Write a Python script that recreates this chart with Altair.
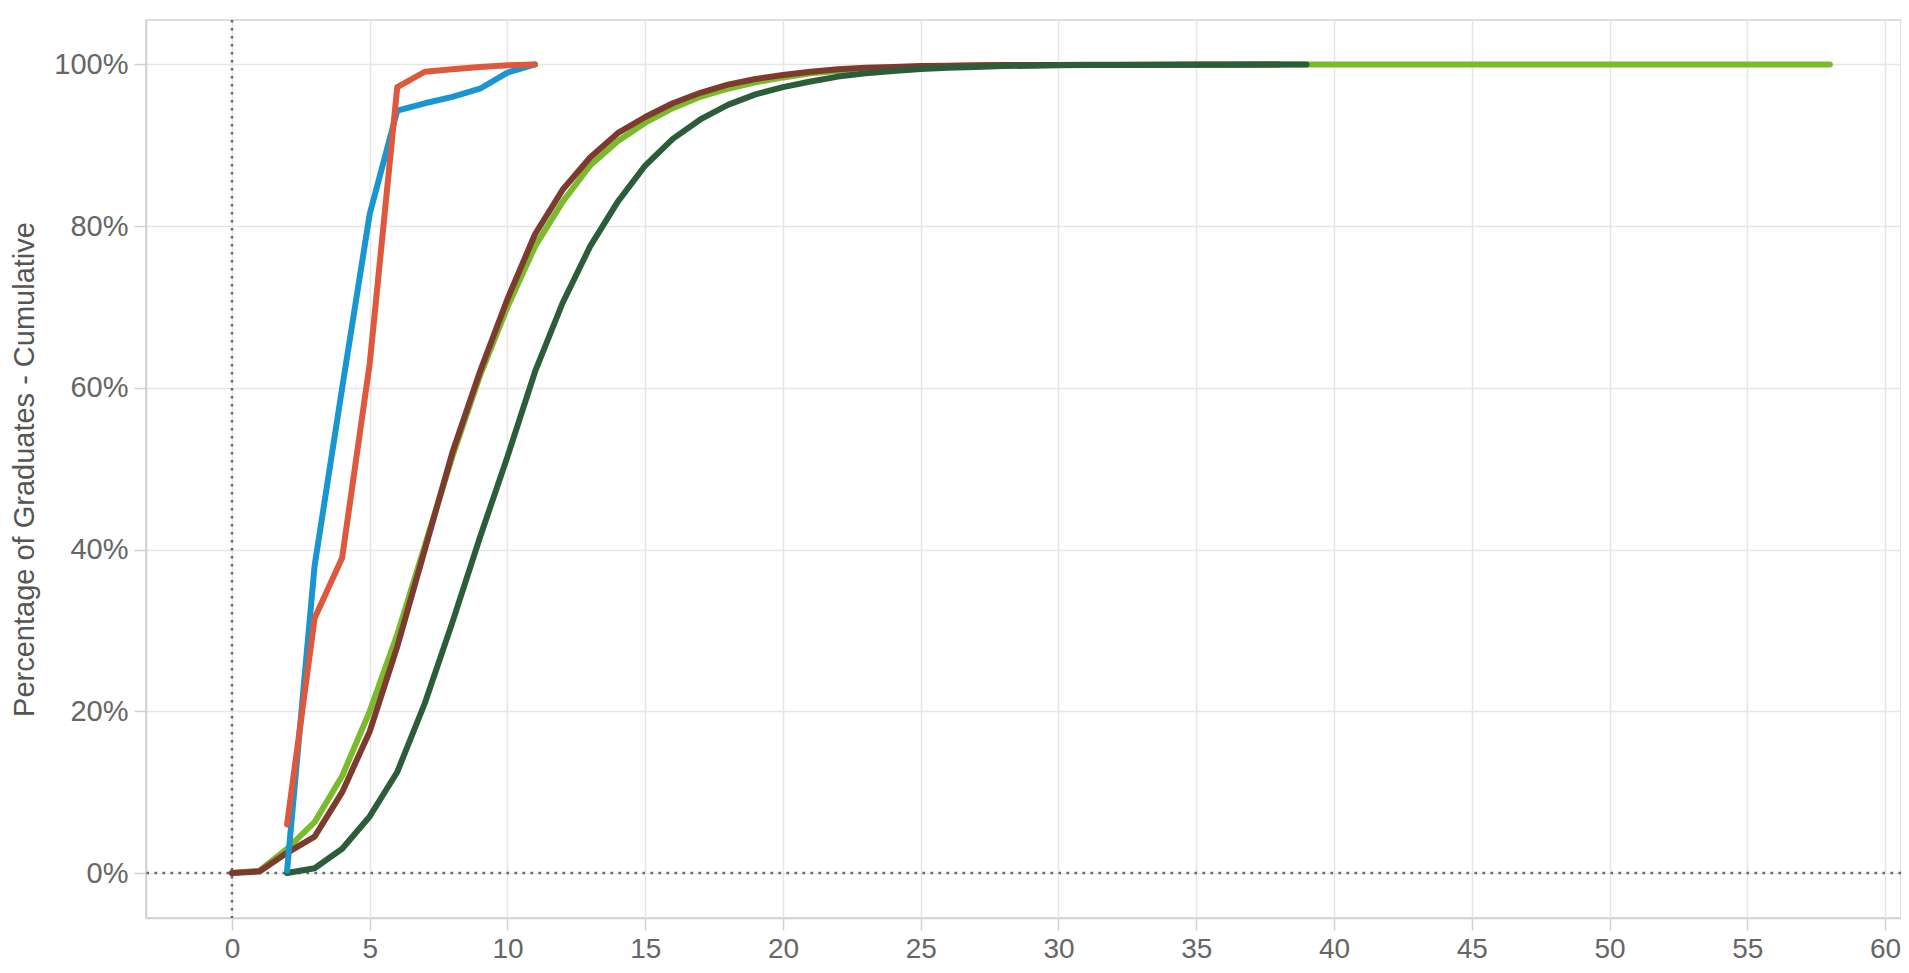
import altair as alt
import pandas as pd

# ---- data ----
blue_x = [2, 3, 4, 5, 6, 7, 8, 9, 10, 11]
blue_y = [0.3, 38, 60, 81.5, 94.3, 95.2, 96.0, 97.0, 99.0, 100]

red_x = [2, 3, 4, 5, 6, 7, 8, 9, 10, 11]
red_y = [6, 31.5, 39, 63, 97.2, 99.1, 99.4, 99.7, 99.9, 100]

lgreen_x = list(range(0, 59))
lgreen_y = [0, 0.3, 3, 6.3, 12, 20, 29.5, 40.5, 51.5, 61.5,
            70, 77.5, 83, 87.5, 90.5, 92.8, 94.6, 96, 97, 97.8,
            98.4, 98.9, 99.2, 99.45, 99.6, 99.7, 99.8, 99.85, 99.9, 99.9,
            99.92, 99.94, 99.95, 99.96, 99.97, 99.97, 99.98, 99.98, 99.99, 99.99,
            99.99, 99.99, 99.99, 100, 100, 100, 100, 100, 100, 100,
            100, 100, 100, 100, 100, 100, 100, 100, 100]

brown_x = list(range(0, 39))
brown_y = [0, 0.2, 2.5, 4.5, 10, 17.5, 28, 40, 52, 62,
           71, 79, 84.5, 88.5, 91.5, 93.5, 95.2, 96.5, 97.5, 98.2,
           98.7, 99.1, 99.4, 99.6, 99.7, 99.8, 99.85, 99.9, 99.92, 99.94,
           99.95, 99.96, 99.97, 99.98, 99.98, 99.99, 99.99, 100, 100]

dgreen_x = list(range(2, 40))
dgreen_y = [0, 0.6, 3, 7, 12.5, 21, 31, 41.5, 51.5, 62,
            70.5, 77.5, 83, 87.5, 90.8, 93.2, 95, 96.3, 97.2, 97.9,
            98.5, 98.9, 99.2, 99.45, 99.6, 99.7, 99.8, 99.85, 99.9, 99.92,
            99.94, 99.95, 99.96, 99.97, 99.98, 99.99, 100, 100]

series = [
    ("Light green", lgreen_x, lgreen_y, "#7bba2a"),
    ("Brown", brown_x, brown_y, "#7d3b2f"),
    ("Dark green", dgreen_x, dgreen_y, "#2c5d3b"),
    ("Blue", blue_x, blue_y, "#1996cf"),
    ("Red", red_x, red_y, "#de583d"),
]

FONT = "Liberation Sans"
LABEL_COLOR = "#666666"

x_scale = alt.Scale(domain=[-3.12, 60.58], nice=False, zero=False)
y_scale = alt.Scale(domain=[-0.0556, 1.055], nice=False, zero=False)

x_axis = alt.Axis(
    values=list(range(0, 61, 5)), title=None, grid=True,
    gridColor="#e6e6e6", gridWidth=1.5,
    domainColor="#d0d0d0", domainWidth=1.5,
    tickColor="#d0d0d0", tickSize=12, tickWidth=1.5,
    labelFont=FONT, labelFontSize=28, labelColor=LABEL_COLOR, labelPadding=5,
)
y_axis = alt.Axis(
    values=[0, 0.2, 0.4, 0.6, 0.8, 1.0], format=".0%",
    title="Percentage of Graduates - Cumulative", grid=True,
    gridColor="#e6e6e6", gridWidth=1.5,
    domainColor="#d0d0d0", domainWidth=1.5,
    tickColor="#d0d0d0", tickSize=12, tickWidth=1.5,
    labelFont=FONT, labelFontSize=29, labelColor=LABEL_COLOR, labelPadding=6,
    titleFont=FONT, titleFontSize=29, titleFontWeight="normal",
    titleColor="#555555", titlePadding=14,
)

layers = []
zero_df = pd.DataFrame({"v": [0]})
layers.append(
    alt.Chart(zero_df).mark_rule(color="#666666", strokeWidth=2.5, strokeDash=[2.5, 5.5])
    .encode(x=alt.X("v:Q", scale=x_scale, axis=x_axis))
)
layers.append(
    alt.Chart(zero_df).mark_rule(color="#666666", strokeWidth=2.5, strokeDash=[2.5, 5.5])
    .encode(y=alt.Y("v:Q", scale=y_scale, axis=y_axis))
)

for name, xs, ys, col in series:
    df = pd.DataFrame({"years": xs, "pct": [v / 100 for v in ys], "series": name})
    layers.append(
        alt.Chart(df).mark_line(color=col, strokeWidth=6, strokeCap="round", strokeJoin="round")
        .encode(
            x=alt.X("years:Q", scale=x_scale, axis=x_axis),
            y=alt.Y("pct:Q", scale=y_scale, axis=y_axis),
        )
    )

chart = alt.layer(*layers).properties(
    width=1755, height=898,
    autosize=alt.AutoSizeParams(type="none"),
    padding={"left": 138, "top": 12, "right": 0, "bottom": 46},
).configure_view(stroke="#d4d4d4", strokeWidth=1.5)

chart.save("out.html", embed_options={"renderer": "svg", "actions": False})
